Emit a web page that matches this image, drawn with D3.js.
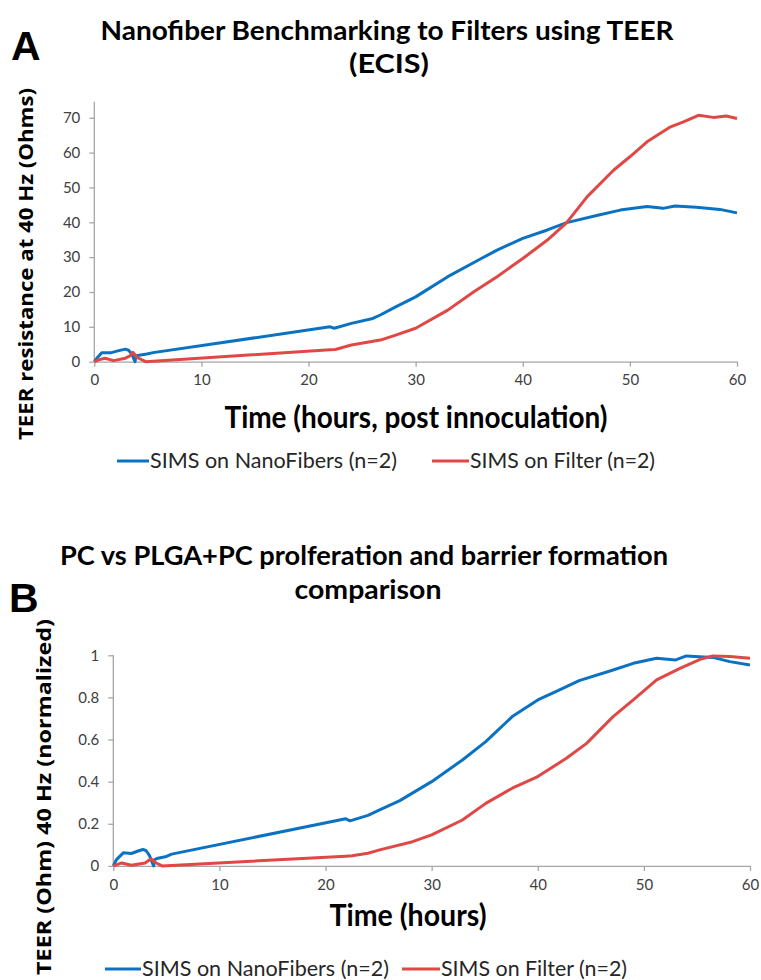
<!DOCTYPE html>
<html>
<head>
<meta charset="utf-8">
<script src="https://cdn.jsdelivr.net/npm/d3@7"></script>
<style>
  body { margin: 0; background: #fff; }
  svg { display: block; }
  .tick text { font-family: Lato, "Open Sans", sans-serif; }
</style>
</head>
<body>
<svg id="chart" width="761" height="980"></svg>
<script>
// ---- data ----
const xTicks = [0, 10, 20, 30, 40, 50, 60];
const yTicksA = [0, 10, 20, 30, 40, 50, 60, 70];
const yTicksB = [0, 0.2, 0.4, 0.6, 0.8, 1];
const seriesNames = ["SIMS on NanoFibers (n=2)", "SIMS on Filter (n=2)"];

// panel A, TEER in Ohms
const aFiberTime = [0, 0.3, 0.7, 1.6, 2.2, 2.9, 3.2, 3.5, 3.7, 3.8, 3.9, 4.9, 5.5, 22, 22.4, 24, 26, 26.7, 28, 30, 33, 36, 37.6, 40, 42.3, 44.1, 47, 49.1, 51.6, 53.1, 54.2, 56.2, 58.4, 60];
const aFiberOhm  = [0, 1.2, 2.6, 2.6, 3.1, 3.6, 3.3, 2.2, 0.7, 0, 1.7, 2.2, 2.6, 10, 9.6, 11, 12.4, 13.4, 15.5, 18.6, 24.4, 29.4, 32, 35.4, 37.8, 39.9, 42, 43.5, 44.5, 44, 44.7, 44.3, 43.7, 42.7];
const aFilterTime = [0, 0.5, 1.0, 1.8, 2.9, 3.3, 3.6, 4.0, 4.8, 22, 22.5, 24, 26.7, 28, 30, 33, 35.4, 37.6, 40, 42.3, 44.1, 46, 48.5, 50, 51.6, 53.8, 55, 56.4, 57.8, 59, 60];
const aFilterOhm  = [0, 0.6, 1.0, 0.3, 1.0, 1.6, 2.7, 1.2, 0, 3.4, 3.5, 4.8, 6.2, 7.5, 9.6, 14.8, 20, 24.4, 29.6, 34.9, 39.9, 47.3, 55, 58.8, 63.1, 67.4, 68.8, 70.7, 70.1, 70.5, 69.8];

// panel B, normalized TEER
const bFiberTime = [0, 0.3, 0.94, 1.7, 2.4, 2.8, 3.1, 3.4, 3.8, 3.9, 4.1, 4.9, 5.5, 21.9, 22.3, 24, 25.1, 27, 30, 32.9, 35.1, 37.6, 40, 41.7, 43.9, 47.1, 49, 51.2, 53, 54, 56.5, 58.1, 60];
const bFiberNorm = [0, 0.03, 0.062, 0.059, 0.072, 0.078, 0.072, 0.05, 0, 0.03, 0.035, 0.043, 0.056, 0.224, 0.214, 0.24, 0.266, 0.31, 0.40, 0.503, 0.59, 0.709, 0.788, 0.828, 0.88, 0.93, 0.962, 0.986, 0.978, 0.997, 0.99, 0.97, 0.954];
const bFilterTime = [0, 0.8, 1.7, 3.0, 3.55, 4.0, 4.6, 21.9, 22.5, 24, 25.1, 28.2, 30, 32.9, 35.1, 37.6, 40, 42.7, 44.6, 47.1, 49, 51.2, 53.4, 55.3, 56.5, 58.1, 60];
const bFilterNorm = [0, 0.014, 0.003, 0.014, 0.034, 0.015, 0, 0.046, 0.048, 0.06, 0.076, 0.115, 0.147, 0.218, 0.297, 0.369, 0.424, 0.511, 0.582, 0.709, 0.788, 0.883, 0.938, 0.981, 0.997, 0.994, 0.986];

const colors = ["#0b72c1", "#e04845"];
const axisGray = "#a6a6a6";

const svg = d3.select("#chart");
const zip = (ts, vs) => ts.map((t, i) => [t, vs[i]]);

function panel(cfg) {
  const g = svg.append("g");
  const x = d3.scaleLinear().domain([0, 60]).range([cfg.left, cfg.right]);
  const y = d3.scaleLinear().domain([0, cfg.yMax]).range([cfg.bottom, cfg.top]);

  // axes
  const xAxis = g.append("g")
    .attr("transform", `translate(0,${cfg.bottom})`)
    .call(d3.axisBottom(x).tickValues(xTicks).tickSize(5).tickSizeOuter(0).tickPadding(8));
  const yAxis = g.append("g")
    .attr("transform", `translate(${cfg.left},0)`)
    .call(d3.axisLeft(y).tickValues(cfg.yTicks).tickSize(5).tickSizeOuter(0).tickPadding(9)
      .tickFormat(d3.format("~g")));
  [xAxis, yAxis].forEach(a => {
    a.select(".domain").attr("stroke", axisGray).attr("stroke-width", 1.3);
    a.selectAll(".tick line").attr("stroke", axisGray).attr("stroke-width", 1.3);
    a.selectAll(".tick text").attr("fill", "#404040").style("font-size", "15px");
  });
  yAxis.select(".domain").attr("d", `M0,${cfg.axisTop}V${cfg.bottom}`);

  // lines
  const line = d3.line().x(d => x(d[0])).y(d => y(d[1]));
  cfg.series.forEach((s, i) => {
    g.append("path")
      .datum(s)
      .attr("fill", "none")
      .attr("stroke", colors[i])
      .attr("stroke-width", 3)
      .attr("stroke-linejoin", "round")
      .attr("d", line);
  });

  // panel letter
  g.append("text")
    .attr("x", cfg.letterX).attr("y", cfg.letterY)
    .attr("font-family", "Liberation Sans, Arial, sans-serif")
    .attr("font-weight", "bold").attr("font-size", 41)
    .text(cfg.letter);

  // title lines
  cfg.title.forEach(t => {
    g.append("text")
      .attr("x", t.x).attr("y", t.y)
      .attr("text-anchor", "middle")
      .attr("font-family", "Lato, sans-serif").attr("font-weight", "bold")
      .attr("font-size", 27)
      .attr("textLength", t.len).attr("lengthAdjust", "spacingAndGlyphs")
      .text(t.text);
  });

  // y label
  g.append("text")
    .attr("transform", `translate(${cfg.yLabel.x},${cfg.yLabel.y}) rotate(-90)`)
    .attr("text-anchor", "middle")
    .attr("font-family", "Open Sans, DejaVu Sans, sans-serif").attr("font-weight", "bold")
    .attr("font-size", 20)
    .attr("textLength", cfg.yLabel.len).attr("lengthAdjust", "spacingAndGlyphs")
    .text(cfg.yLabel.text);

  // x label
  g.append("text")
    .attr("x", cfg.xLabel.x).attr("y", cfg.xLabel.y)
    .attr("text-anchor", "middle")
    .attr("font-family", "Lato, sans-serif").attr("font-weight", "bold")
    .attr("font-size", 31)
    .attr("textLength", cfg.xLabel.len).attr("lengthAdjust", "spacingAndGlyphs")
    .text(cfg.xLabel.text);

  // legend
  cfg.legend.forEach((l, i) => {
    g.append("line")
      .attr("x1", l.x1).attr("x2", l.x2)
      .attr("y1", cfg.legendY).attr("y2", cfg.legendY)
      .attr("stroke", colors[i]).attr("stroke-width", 3);
    g.append("text")
      .attr("x", l.x2 + 1).attr("y", cfg.legendY + 7)
      .attr("font-family", "Lato, sans-serif").attr("font-size", 21)
      .attr("fill", "#262626")
      .attr("textLength", l.len).attr("lengthAdjust", "spacingAndGlyphs")
      .text(seriesNames[i]);
  });
}

panel({
  letter: "A", letterX: 11, letterY: 60,
  left: 94.3, right: 737, bottom: 361.7, top: 101.7, axisTop: 101.7,
  yMax: 74.6, yTicks: yTicksA,
  series: [zip(aFiberTime, aFiberOhm), zip(aFilterTime, aFilterOhm)],
  title: [
    { text: "Nanofiber Benchmarking to Filters using TEER", x: 387, y: 40, len: 573 },
    { text: "(ECIS)", x: 389, y: 73, len: 80 }
  ],
  yLabel: { text: "TEER resistance at 40 Hz (Ohms)", x: 33, y: 264, len: 352 },
  xLabel: { text: "Time (hours, post innoculation)", x: 416, y: 428, len: 383 },
  legendY: 461,
  legend: [ { x1: 117, x2: 149, len: 247 }, { x1: 432, x2: 469, len: 185 } ]
});

panel({
  letter: "B", letterX: 9, letterY: 612,
  left: 113.3, right: 750, bottom: 865.9, top: 655.3, axisTop: 655.3,
  yMax: 1, yTicks: yTicksB,
  series: [zip(bFiberTime, bFiberNorm), zip(bFilterTime, bFilterNorm)],
  title: [
    { text: "PC vs PLGA+PC prolferation and barrier formation", x: 364, y: 565, len: 608 },
    { text: "comparison", x: 368, y: 599, len: 147 }
  ],
  yLabel: { text: "TEER (Ohm) 40 Hz (normalized)", x: 51, y: 797, len: 356 },
  xLabel: { text: "Time (hours)", x: 408, y: 926, len: 157 },
  legendY: 969,
  legend: [ { x1: 105, x2: 141, len: 247 }, { x1: 402, x2: 440, len: 186 } ]
});
</script>
</body>
</html>
